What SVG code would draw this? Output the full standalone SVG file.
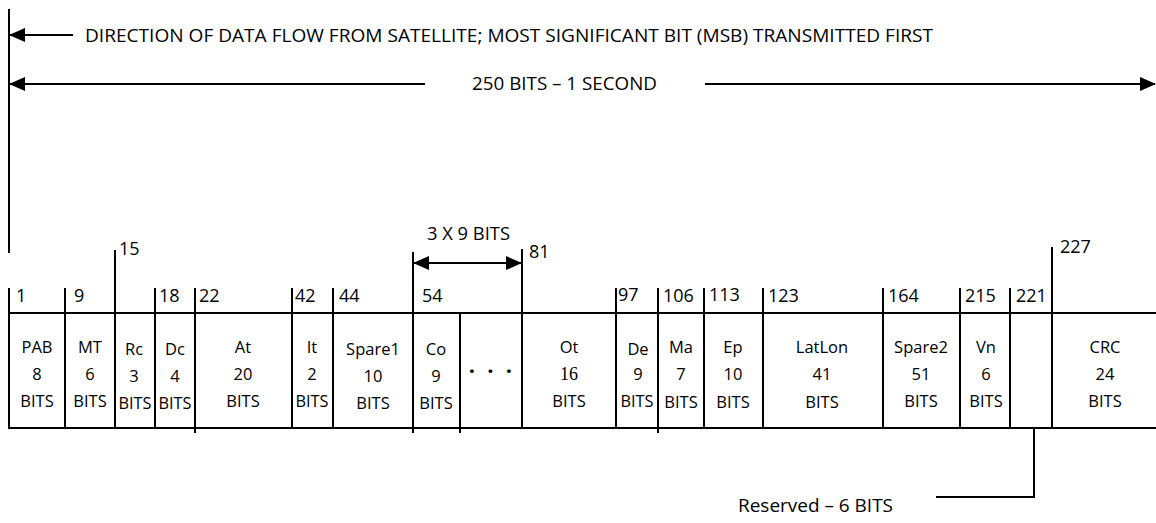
<svg xmlns="http://www.w3.org/2000/svg" width="1156" height="523" viewBox="0 0 1156 523">
<style>
  text { font-family: "Open Sans", "Liberation Sans", sans-serif; fill: #000; }
  .c { font-size: 16.5px; text-anchor: middle; }
  .n { font-size: 18px; }
  .t { font-size: 18px; }
  .cell { fill: #fff; stroke: #000; stroke-width: 2; }
  .ln { stroke: #000; stroke-width: 2; fill: none; }
  .serif { font-family: "Liberation Serif", serif; }
</style>
<defs>
  <marker id="ah" viewBox="0 0 16 14" refX="15" refY="7" markerWidth="16" markerHeight="14" markerUnits="userSpaceOnUse" orient="auto-start-reverse">
    <path d="M0,0 L16,7 L0,14 Z" fill="#000"/>
  </marker>
</defs>
<rect width="1156" height="523" fill="#fff"/>

<!-- header -->
<g id="header">
  <line class="ln" x1="9" y1="9" x2="9" y2="253"/>
  <text class="t" x="85" y="42" textLength="848" lengthAdjust="spacingAndGlyphs">DIRECTION OF DATA FLOW FROM SATELLITE; MOST SIGNIFICANT BIT (MSB) TRANSMITTED FIRST</text>
  <text class="t" x="472" y="90" textLength="185" lengthAdjust="spacingAndGlyphs">250 BITS – 1 SECOND</text>
</g>

<!-- cells -->
<g id="cell-PAB"><rect class="cell" x="9" y="313" width="56" height="115"/>
  <text class="c" x="37" y="353">PAB</text><text class="c" x="37" y="380">8</text><text class="c" x="37" y="407">BITS</text></g>
<g id="cell-MT"><rect class="cell" x="65" y="313" width="50" height="115"/>
  <text class="c" x="90" y="353">MT</text><text class="c" x="90" y="380">6</text><text class="c" x="90" y="407">BITS</text></g>
<g id="cell-Rc"><rect class="cell" x="115" y="313" width="40" height="115"/>
  <text class="c" x="134" y="355">Rc</text><text class="c" x="134" y="382">3</text><text class="c" x="135" y="409" textLength="33" lengthAdjust="spacingAndGlyphs">BITS</text></g>
<g id="cell-Dc"><rect class="cell" x="155" y="313" width="40" height="115"/>
  <text class="c" x="175" y="355">Dc</text><text class="c" x="175" y="382">4</text><text class="c" x="175" y="409" textLength="33" lengthAdjust="spacingAndGlyphs">BITS</text></g>
<g id="cell-At"><rect class="cell" x="195" y="313" width="97" height="115"/>
  <text class="c" x="243" y="353">At</text><text class="c" x="243" y="380">20</text><text class="c" x="243" y="407">BITS</text></g>
<g id="cell-It"><rect class="cell" x="292" y="313" width="41" height="115"/>
  <text class="c" x="312" y="353">It</text><text class="c" x="312" y="380">2</text><text class="c" x="312" y="407" textLength="33" lengthAdjust="spacingAndGlyphs">BITS</text></g>
<g id="cell-Spare1"><rect class="cell" x="333" y="313" width="80" height="115"/>
  <text class="c" x="373" y="355">Spare1</text><text class="c" x="373" y="382">10</text><text class="c" x="373" y="409">BITS</text></g>
<g id="cell-Co"><rect class="cell" x="413" y="313" width="47" height="115"/>
  <text class="c" x="436" y="355">Co</text><text class="c" x="436" y="382">9</text><text class="c" x="436" y="409">BITS</text></g>
<g id="cell-dots"><rect class="cell" x="460" y="313" width="62" height="115"/>
  <text class="c" x="472 490.5 509" y="379" style="font-size:22px;font-weight:bold">···</text></g>
<g id="cell-Ot"><rect class="cell" x="522" y="313" width="94" height="115"/>
  <text class="c" x="569" y="353">Ot</text><text class="c serif" x="569" y="380" style="font-size:18px">16</text><text class="c" x="569" y="407">BITS</text></g>
<g id="cell-De"><rect class="cell" x="616" y="313" width="42" height="115"/>
  <text class="c" x="638" y="355">De</text><text class="c" x="638" y="380">9</text><text class="c" x="637" y="407" textLength="33" lengthAdjust="spacingAndGlyphs">BITS</text></g>
<g id="cell-Ma"><rect class="cell" x="658" y="313" width="46" height="115"/>
  <text class="c" x="681" y="353">Ma</text><text class="c" x="681" y="380">7</text><text class="c" x="681" y="408">BITS</text></g>
<g id="cell-Ep"><rect class="cell" x="704" y="313" width="59" height="115"/>
  <text class="c" x="733" y="353">Ep</text><text class="c" x="733" y="380">10</text><text class="c" x="733" y="408">BITS</text></g>
<g id="cell-LatLon"><rect class="cell" x="763" y="313" width="120" height="115"/>
  <text class="c" x="822" y="353">LatLon</text><text class="c" x="822" y="380">41</text><text class="c" x="822" y="408">BITS</text></g>
<g id="cell-Spare2"><rect class="cell" x="883" y="313" width="77" height="115"/>
  <text class="c" x="921" y="353">Spare2</text><text class="c" x="921" y="380">51</text><text class="c" x="921" y="407">BITS</text></g>
<g id="cell-Vn"><rect class="cell" x="960" y="313" width="50" height="115"/>
  <text class="c" x="986" y="353">Vn</text><text class="c" x="986" y="380">6</text><text class="c" x="986" y="407">BITS</text></g>
<g id="cell-Reserved"><rect class="cell" x="1010" y="313" width="42" height="115"/></g>
<g id="cell-CRC"><rect class="cell" x="1052" y="313" width="110" height="115"/>
  <text class="c" x="1105" y="353">CRC</text><text class="c" x="1105" y="380">24</text><text class="c" x="1105" y="407">BITS</text></g>

<!-- bit position ticks and labels -->
<g id="bit-labels">
  <path class="ln" d="M9,288 V313 M65,288 V313 M115,250 V313 M155,288 V313 M195,288 V313 M292,288 V313 M333,288 V313 M413,252 V313 M522,249 V313 M616,288 V313 M658,288 V313 M704,288 V313 M763,288 V313 M883,288 V313 M960,288 V313 M1010,288 V313 M1052,247 V313"/>
  <path class="ln" d="M195,428 V433 M413,428 V433 M460,428 V433 M658,428 V433"/>
  <text class="n" x="16" y="302">1</text>
  <text class="n" x="74" y="302">9</text>
  <text class="n" x="119" y="255">15</text>
  <text class="n" x="159" y="302">18</text>
  <text class="n" x="199" y="302">22</text>
  <text class="n" x="295" y="302">42</text>
  <text class="n" x="339" y="302">44</text>
  <text class="n" x="422" y="302">54</text>
  <text class="n" x="529" y="258">81</text>
  <text class="n" x="618" y="301">97</text>
  <text class="n" x="663" y="302">106</text>
  <text class="n" x="709" y="301">113</text>
  <text class="n" x="768" y="302">123</text>
  <text class="n" x="888" y="302">164</text>
  <text class="n" x="965" y="302">215</text>
  <text class="n" x="1016" y="302">221</text>
  <text class="n" x="1060" y="253">227</text>
  <text class="t" x="427" y="240" textLength="83" lengthAdjust="spacingAndGlyphs">3 X 9 BITS</text>
  <text class="t" x="738" y="512" textLength="155" lengthAdjust="spacingAndGlyphs">Reserved – 6 BITS</text>
</g>

<!-- connectors -->
<g id="connectors">
  <line class="ln" x1="73" y1="35" x2="10" y2="35" marker-end="url(#ah)"/>
  <line class="ln" x1="425" y1="84" x2="10" y2="84" marker-end="url(#ah)"/>
  <line class="ln" x1="705" y1="84" x2="1155" y2="84" marker-end="url(#ah)"/>
  <line class="ln" x1="414" y1="263" x2="521" y2="263" marker-start="url(#ah)" marker-end="url(#ah)"/>
  <path class="ln" d="M1034,428 V497 H936"/>
</g>
</svg>
